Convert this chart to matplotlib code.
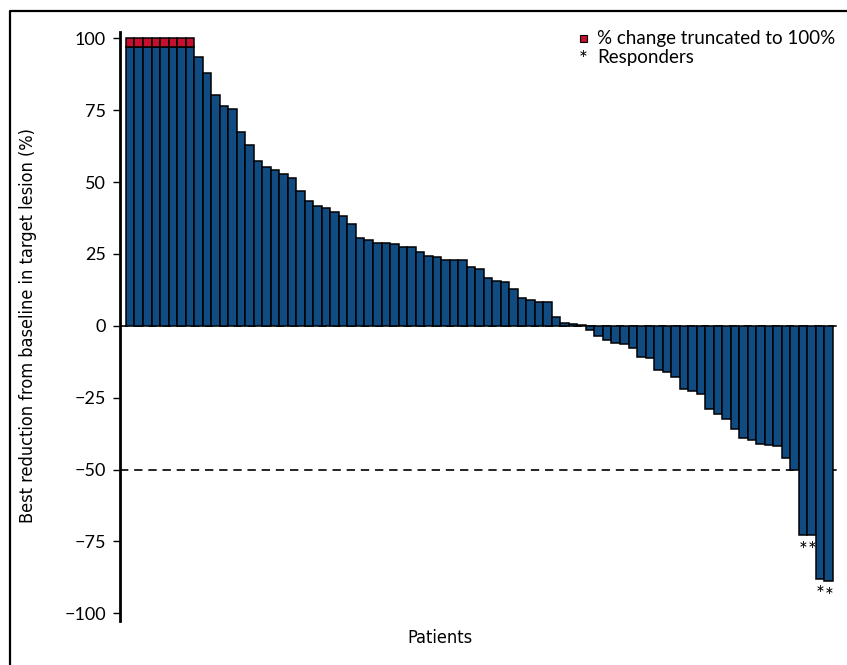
import numpy as np
import matplotlib
matplotlib.use("Agg")
import matplotlib.pyplot as plt
from matplotlib import font_manager
from matplotlib.lines import Line2D

# best % change per patient, sorted; values above 100 are truncated
truncated_vals = [100, 100, 100, 100, 100, 100, 100, 100]
positive_vals = [93.4, 87.8, 80.2, 76.6, 75.3, 67.5, 63.0, 57.2, 55.3, 54.1,
                 52.7, 51.4, 46.8, 43.5, 41.7, 41.1, 39.6, 38.1, 35.4, 30.7,
                 29.7, 28.7, 28.7, 28.4, 27.4, 27.4, 25.6, 24.4, 24.0, 22.8,
                 22.8, 22.8, 20.6, 19.9, 16.6, 15.7, 15.3, 12.8, 9.6, 8.9,
                 8.1, 8.1, 3.2, 1.0, 0.6, 0.2]
negative_vals = [-1.3, -3.5, -5.1, -5.9, -6.4, -7.9, -10.8, -11.1, -15.3, -16.0,
                 -17.9, -21.9, -22.6, -23.7, -29.1, -30.8, -32.6, -36.0, -38.9, -39.7,
                 -41.1, -41.6, -41.9, -46.1, -50.1, -72.7, -72.7, -88.1, -88.7]
n_responders = 4          # last patients in the sorted order
trunc_cap = 3.0           # height of the red cap on truncated bars
yticks = [100, 75, 50, 25, 0, -25, -50, -75, -100]

values = np.array(truncated_vals + positive_vals + negative_vals)
is_trunc = np.array([True] * len(truncated_vals) + [False] * (len(values) - len(truncated_vals)))
x = np.arange(len(values))

blue = "#104C82"
red = "#C5102F"

names = {f.name for f in font_manager.fontManager.ttflist}
main_font = "Lato" if "Lato" in names else "DejaVu Sans"
plt.rcParams["font.family"] = [main_font, "DejaVu Sans"]

# look for a narrow face for the axis titles
narrow_files = [f.fname for f in font_manager.fontManager.ttflist
                if ("Narrow" in f.name or "Condensed" in f.name or f.stretch in ("condensed", "semi-condensed"))
                and f.style == "normal" and f.weight in (400, "normal", "regular")]
if narrow_files:
    title_font = font_manager.FontProperties(fname=sorted(narrow_files)[0], size=13)
else:
    title_font = font_manager.FontProperties(family=main_font, size=11)

fig = plt.figure(figsize=(8.47, 6.65), dpi=100)
ax = fig.add_axes([120 / 847, 1 - 621 / 665, (842 - 120) / 847, (621 - 31.7) / 665])

# bars: truncated ones get a blue body and a red cap
heights = np.where(is_trunc, values - trunc_cap, values)
ax.bar(x, heights, width=1.0, color=blue, edgecolor="black", linewidth=1.1, zorder=3)
ax.bar(x[is_trunc], np.full(is_trunc.sum(), trunc_cap), bottom=heights[is_trunc],
       width=1.0, color=red, edgecolor="black", linewidth=1.1, zorder=3)

# reference lines at 0 and -50
for yv in (0, -50):
    ax.axhline(yv, color="black", linewidth=1.2, linestyle=(0, (5, 3.5)), zorder=2)

# responder stars under the bars
for i in x[-n_responders:]:
    ax.text(i, values[i] - 2.0, "*", ha="center", va="top", fontsize=15, zorder=4)

ax.set_xlim(-1.2, len(values) + 0.56)
ax.set_ylim(-102.7, 102.3)
ax.set_yticks(yticks)
ax.set_yticklabels([f"{t}".replace("-", "\u2212") for t in yticks])
ax.set_xticks([])
for side in ("top", "right", "bottom"):
    ax.spines[side].set_visible(False)
ax.spines["left"].set_linewidth(2.0)
ax.tick_params(axis="y", direction="out", length=5, width=1.0, pad=5, labelsize=13)

fig.text(28 / 847, 1 - 326 / 665, "Best reduction from baseline in target lesion (%)",
         rotation=90, ha="center", va="center", fontproperties=title_font)
fig.text(440 / 847, 1 - 638 / 665, "Patients", ha="center", va="center",
         fontproperties=title_font)

# legend
fig.patches.append(plt.Rectangle((580 / 847, 1 - 42 / 665), 7 / 847, 7 / 665,
                                 transform=fig.transFigure, facecolor=red,
                                 edgecolor="black", linewidth=0.8))
fig.text(597 / 847, 1 - 44 / 665, "% change truncated to 100%", ha="left", va="baseline", fontsize=13.5)
fig.text(583.5 / 847, 1 - 66 / 665, "*", ha="center", va="baseline", fontsize=15)
fig.text(597 / 847, 1 - 63 / 665, "Responders", ha="left", va="baseline", fontsize=13.5)

# frame around the figure
fig.lines.append(Line2D([10 / 847, 10 / 847, 846 / 847], [0, 1 - 11 / 665, 1 - 11 / 665],
                        transform=fig.transFigure, color="black", linewidth=1.6))

fig.savefig("out.png", dpi=100, facecolor="white")
